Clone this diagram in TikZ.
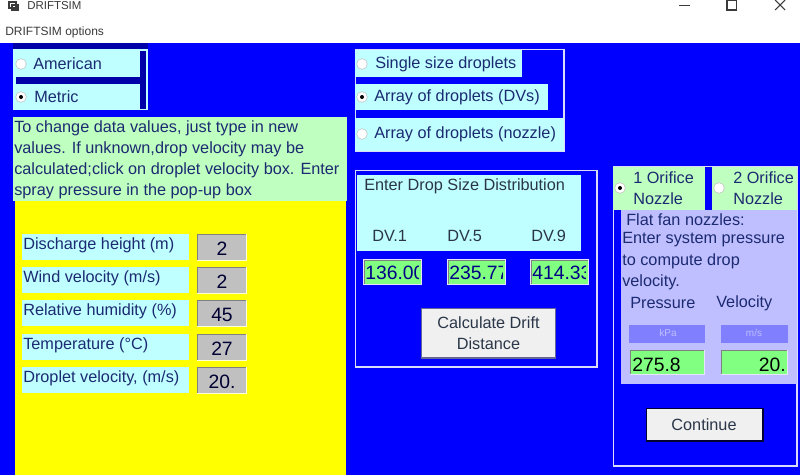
\documentclass[tikz,border=0pt]{standalone}
\usepackage{fontspec}
\setmainfont{Liberation Sans}
\definecolor{formblue}{HTML}{0000FF}
\definecolor{darkbar}{HTML}{0000A8}
\definecolor{formyellow}{HTML}{FFFF00}
\definecolor{palecyan}{HTML}{BFFFFF}
\definecolor{palegreen}{HTML}{BFFFBF}
\definecolor{lavender}{HTML}{BFBFFF}
\definecolor{midviolet}{HTML}{8080FF}
\definecolor{fieldgreen}{HTML}{80FF80}
\definecolor{navytext}{HTML}{1C2A72}
\definecolor{darktext}{HTML}{2A3648}
\definecolor{edgelight}{HTML}{D8DCF8}
\definecolor{btngray}{HTML}{F0F0F0}
\definecolor{fieldgray}{HTML}{C0C0C0}
\definecolor{wintext}{HTML}{3A3A3A}

\begin{document}
\begin{tikzpicture}[x=.75pt, y=-.75pt,
    lab/.style = {anchor = west, inner sep = 0pt, text = navytext, font = \fontsize{12.2}{14}\selectfont},
    dark/.style = {lab, text = darktext},
    twolines/.style = {align = center, font = \fontsize{12.2}{15.75}\selectfont},
    win/.style = {anchor = west, inner sep = 0pt, text = wintext, font = \fontsize{9}{11}\selectfont},
    radio/.style = {circle, inner sep = 0pt, outer sep = 0pt, minimum size = 8pt, draw = gray!50, fill = white, line width = .4pt},
    pip/.style = {circle, inner sep = 0pt, outer sep = 0pt, minimum size = 3pt, fill = black},
    val/.style = {inner sep = 0pt, text = black!80!blue, font = \fontsize{14.5}{16}\selectfont},
    frame/.style = {draw = edgelight, line width = .9pt}]
  \useasboundingbox (0,0) rectangle (800,475);

  % window bar
  \fill [white] (0,0) rectangle (800,43);
  \draw [wintext, line width = .8pt] (9,2) rectangle (16,8) (12,5) rectangle (18,10);
  \node [win, font = \fontsize{8.6}{11}\selectfont] (title) at (27,6) {DRIFTSIM};
  \node [win] (menu) at (5,32) {DRIFTSIM options};
  \draw [wintext, line width = .8pt] (679,5.5) -- (690,5.5);
  \draw [wintext, line width = 1pt] (727,0) rectangle (736.5,10);
  \draw [wintext, line width = .8pt] (775,0) -- (785,10) (785,0) -- (775,10);

  % form
  \fill [formblue] (0,43) rectangle (800,475);

  % units box
  \fill [darkbar] (13,43) rectangle (148,49);
  \fill [palecyan] (13,49) rectangle (148,110);
  \fill [darkbar] (16,77) rectangle (140,84);
  \fill [darkbar] (140,51) rectangle (146,109);
  \node [radio] (american) at (21,64) {};
  \node [lab] (americantxt) at (33,64) {American};
  \node [radio] (metric) at (21,97) {};
  \node [pip] at (metric) {};
  \node [lab] (metrictxt) at (34,97) {Metric};

  % note and yellow area
  \fill [palegreen] (13,117) rectangle (347,201);
  \fill [formyellow] (15,201) rectangle (346,475);
  \node [lab] (note1) at (14,128) {To change data values, just type in new};
  \node [lab] (note2) at (14,149) {values. If unknown,drop velocity may be};
  \node [lab] (note3) at (14,170) {calculated;click on droplet velocity box. Enter};
  \node [lab] (note4) at (14,191) {spray pressure in the pop-up box};

  \foreach \y/\t/\v in {234/{Discharge height (m)}/2, 267/{Wind velocity (m/s)}/2, 300/{Relative humidity (\%)}/45, 334/{Temperature (°C)}/27, 367/{Droplet velocity, (m/s)}/20.}
           {
             \fill [palecyan] (22,\y) rectangle (189,\y+26);
             \node [lab] (row\y) at (23,\y+11) {\t};
             \fill [fieldgray] (197,\y) rectangle (247,\y+27);
             \draw [white!85!formyellow, line width = 1pt] (197,\y+26.5) -- (246.5,\y+26.5) -- (246.5,\y);
             \draw [gray, line width = 1pt] (197.5,\y+26) -- (197.5,\y+.5) -- (246,\y+.5);
             \node [val] (val\y) at (222,\y+14.5) {\v};
           }

  % droplet choice
  \draw [frame] (355.5,49.5) rectangle (564,151);
  \fill [palecyan] (355,50) rectangle (522,77);
  \fill [palecyan] (355,84) rectangle (548,110);
  \fill [palecyan] (355,118) rectangle (564,151);
  \node [radio] (single) at (362,64) {};
  \node [lab] (singletxt) at (375,64) {Single size droplets};
  \node [radio] (arraydv) at (362,97) {};
  \node [pip] at (arraydv) {};
  \node [lab] (arraydvtxt) at (374,97) {Array of droplets (DVs)};
  \node [radio] (arraynz) at (362,134) {};
  \node [lab] (arraynztxt) at (374,134) {Array of droplets (nozzle)};

  % size distribution
  \draw [frame] (355.5,170.5) rectangle (597,367);
  \fill [palecyan] (357,175) rectangle (581,251);
  \node [dark] (enter) at (364,186) {Enter Drop Size Distribution};
  \foreach \x/\n in {372/1, 447/5, 531/9}
           {
             \node [dark] (dv\n) at (\x,236) {DV.\n};
           }
  \foreach \x/\n/\v in {363/1/136.00, 447/5/235.77, 530/9/414.33}
           {
             \fill [white!90!blue] (\x,259) rectangle (\x+59,285);
             \fill [gray] (\x+1,260) rectangle (\x+58,284);
             \begin{scope}
               \clip (\x+2,261) rectangle (\x+56,284);
               \fill [fieldgreen] (\x+2,261) rectangle (\x+58,284);
               \node [val, anchor = west, text = darkbar!80!black] (size\n) at (\x+2,273) {\v};
             \end{scope}
             \fill [fieldgreen] (\x+56,261) rectangle (\x+58,284);
           }
  \fill [gray!80!blue] (421,308) rectangle (556,359);
  \fill [btngray] (422,309) rectangle (555,357);
  \node [dark, anchor = center, twolines] (calc) at (488.5,333.5) {Calculate Drift\\Distance};

  % nozzle panel
  \draw [frame] (613.5,166.5) rectangle (797,466);
  \fill [palegreen] (613,167) rectangle (705,210);
  \fill [palegreen] (712,167) rectangle (797,210);
  \node [radio] (one) at (620,188) {};
  \node [pip] at (one) {};
  \node [lab, twolines, align = left, anchor = north west] (onetxt) at (633,171) {1 Orifice\\Nozzle};
  \node [radio] (two) at (719,188) {};
  \node [lab, twolines, align = left, anchor = north west] (twotxt) at (733,171) {2 Orifice\\Nozzle};
  \fill [lavender] (621,210) rectangle (797,384);
  \node [lab] (flat1) at (626,220) {Flat fan nozzles:};
  \node [lab] (flat2) at (622,240) {Enter system pressure};
  \node [lab] (flat3) at (622,261) {to compute drop};
  \node [lab] (flat4) at (622,282) {velocity.};
  \node [lab] (press) at (630,303) {Pressure};
  \node [lab] (veloc) at (716,303) {Velocity};
  \fill [midviolet] (629,325) rectangle (705,343);
  \fill [midviolet] (721,325) rectangle (788,343);
  \node [lab, anchor = center, text = lavender, font = \fontsize{7.5}{9}\selectfont] (kpa) at (668,333) {kPa};
  \node [lab, anchor = center, text = lavender, font = \fontsize{7.5}{9}\selectfont] (ms) at (754,333) {m/s};
  \foreach \x/\w in {630/75, 721/67}
           {
             \fill [white!90!blue] (\x,350) rectangle (\x+\w,375);
             \fill [gray] (\x,350) rectangle (\x+\w-1,374);
             \fill [fieldgreen] (\x+1,351) rectangle (\x+\w-1,374);
           }
  \node [val, anchor = west, text = black] (pressval) at (632,365) {275.8};
  \node [val, anchor = east, text = black] (velval) at (786,365) {20.};
  \fill [black!80!blue] (646,408) rectangle (764,442);
  \fill [btngray] (647,409) rectangle (762,440);
  \node [dark, anchor = center] (continue) at (704,425) {Continue};
\end{tikzpicture}
\end{document}
